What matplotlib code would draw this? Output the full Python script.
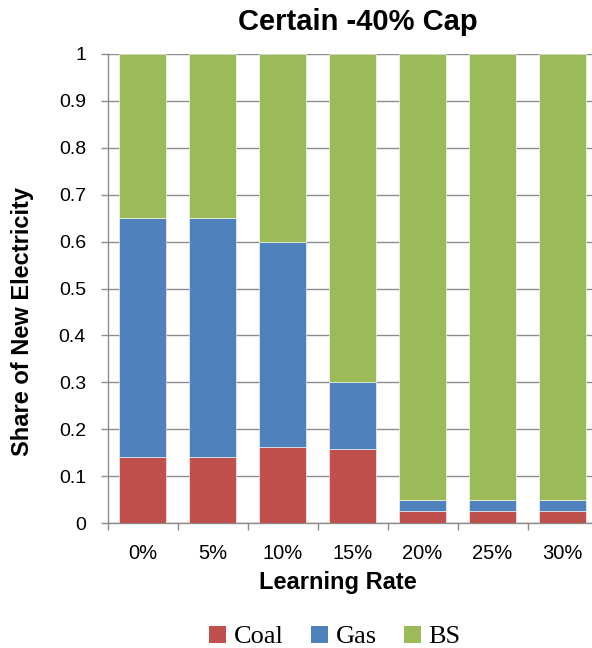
import matplotlib
matplotlib.use("Agg")
import matplotlib.pyplot as plt
import numpy as np
from matplotlib.patches import Patch

categories = ["0%", "5%", "10%", "15%", "20%", "25%", "30%"]
coal = [0.14, 0.14, 0.163, 0.158, 0.025, 0.025, 0.025]
gas = [0.51, 0.51, 0.437, 0.142, 0.025, 0.025, 0.025]
bs = [0.35, 0.35, 0.40, 0.70, 0.95, 0.95, 0.95]

colors = {"Coal": "#C0504D", "Gas": "#4F81BD", "BS": "#9BBB59"}

plt.rcParams['font.family'] = ['Liberation Sans', 'DejaVu Sans']
W, H = 592, 648
fig = plt.figure(figsize=(W / 100, H / 100), dpi=100)
ax = fig.add_axes([107.5 / W, 125 / H, 490 / W, 469 / H])

x = np.arange(len(categories))
w = 0.66
coal_a = np.array(coal); gas_a = np.array(gas); bs_a = np.array(bs)
ax.bar(x, coal_a, w, color=colors["Coal"], edgecolor="white", linewidth=0.4, zorder=3)
ax.bar(x, gas_a, w, bottom=coal_a, color=colors["Gas"], edgecolor="white", linewidth=0.4, zorder=3)
ax.bar(x, bs_a, w, bottom=coal_a + gas_a, color=colors["BS"], edgecolor="white", linewidth=0.4, zorder=3)

ax.set_xlim(-0.5, len(categories) - 0.5)
ax.set_ylim(0, 1)
ax.set_yticks(np.arange(0, 1.01, 0.1))
ax.set_yticklabels(["0", "0.1", "0.2", "0.3", "0.4", "0.5", "0.6", "0.7", "0.8", "0.9", "1"])
ax.yaxis.grid(True, color="#8c8c8c", linewidth=1.0, zorder=0)
ax.set_axisbelow(True)

ax.set_xticks(x)
ax.set_xticklabels(categories)
ax.set_xticks(np.arange(-0.5, len(categories), 1), minor=True)
ax.tick_params(axis="x", which="major", length=0, pad=15, labelsize=14.5)
ax.tick_params(axis="x", which="minor", length=5, width=1.0, color="#8c8c8c", direction="out")
ax.tick_params(axis="y", length=5, width=1.0, color="#8c8c8c", direction="out", labelsize=14, pad=10.5)

for s in ["top", "right"]:
    ax.spines[s].set_visible(False)
for s in ["left", "bottom"]:
    ax.spines[s].set_color("#8c8c8c")
    ax.spines[s].set_linewidth(1.0)

fig.text(357.5 / W, 1 - 22 / H, "Certain -40% Cap", fontsize=21, fontweight="bold",
         ha="center", va="center")
ax.set_xlabel("Learning Rate", fontsize=17, fontweight="bold")
ax.xaxis.set_label_coords((337.5 - 107.5) / 490, (523 - 582) / 469)
ax.xaxis.label.set_va("center")
ax.set_ylabel("Share of New Electricity", fontsize=17, fontweight="bold")
ax.yaxis.set_label_coords((22.5 - 107.5) / 490, (523 - 321) / 469)
ax.yaxis.label.set_va("center")
ax.yaxis.label.set_ha("center")

handles = [Patch(facecolor=colors[k], edgecolor="none") for k in ["Coal", "Gas", "BS"]]
fig.legend(handles, ["Coal", "Gas", "BS"], loc="center", bbox_to_anchor=(335 / W, 1 - 637 / H),
           ncol=3, frameon=False, prop={"family": "Liberation Serif", "size": 19},
           handlelength=0.62, handleheight=0.62, handletextpad=0.3, columnspacing=1.05,
           borderpad=0, borderaxespad=0)

fig.savefig("out.png", dpi=100)
